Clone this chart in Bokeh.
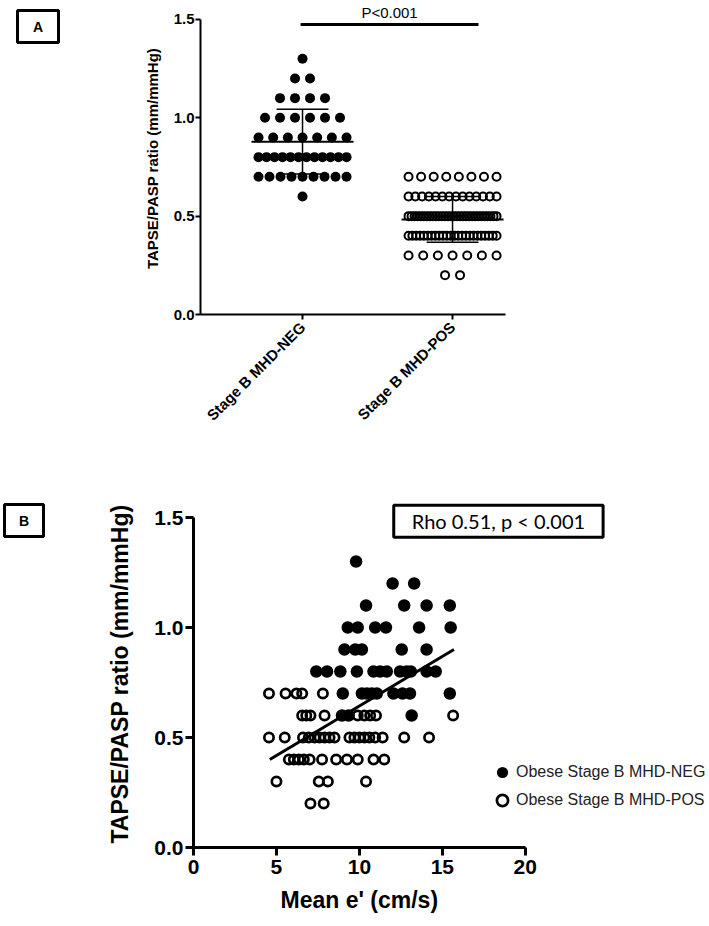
import numpy as np
from bokeh.plotting import figure
from bokeh.models import (Range1d, FixedTicker, Label, Legend, LegendItem, PrintfTickFormatter, Title,
                          Spacer)
from bokeh.layouts import column, row
from bokeh.embed import file_html
from bokeh.resources import INLINE
from bokeh.core.properties import value

# ---------------- Panel A data ----------------
groups = ["Stage B MHD-NEG", "Stage B MHD-POS"]
neg_levels = [1.3, 1.2, 1.1, 1.0, 0.9, 0.8, 0.7, 0.6]
neg_counts = [1, 2, 4, 6, 7, 12, 9, 1]
pos_levels = [0.7, 0.6, 0.5, 0.4, 0.3, 0.2]
pos_counts = [8, 14, 30, 24, 7, 2]
a_yticks = [0.0, 0.5, 1.0, 1.5]
p_text = "P<0.001"

# ---------------- Panel B data ----------------
neg_x = [9.8,
         12.0, 13.3,
         10.4, 12.7, 14.05, 15.45,
         9.3, 9.9, 10.95, 11.6, 13.6, 15.5,
         9.1, 9.75, 10.15, 12.55, 14.05,
         7.4, 8.05, 8.85, 9.85, 10.85, 11.25, 11.65, 12.45, 12.85, 13.1, 14.05, 14.6,
         9.0, 10.15, 10.45, 10.75, 11.05, 12.05, 12.6, 13.05, 15.45,
         8.95, 9.35, 13.15]
neg_y = [1.3,
         1.2, 1.2,
         1.1, 1.1, 1.1, 1.1,
         1.0, 1.0, 1.0, 1.0, 1.0, 1.0,
         0.9, 0.9, 0.9, 0.9, 0.9,
         0.8, 0.8, 0.8, 0.8, 0.8, 0.8, 0.8, 0.8, 0.8, 0.8, 0.8, 0.8,
         0.7, 0.7, 0.7, 0.7, 0.7, 0.7, 0.7, 0.7, 0.7,
         0.6, 0.6, 0.6]
pos_x = [4.55, 5.55, 6.2, 6.55, 7.8,
         6.55, 6.8, 7.05, 7.9, 9.9, 10.3, 10.65, 11.0, 15.65,
         4.55, 5.5, 6.6, 6.95, 7.3, 7.6, 7.9, 8.2, 8.5, 9.4, 9.7, 10.0, 10.3, 10.6, 10.95, 11.4, 12.7, 14.2,
         5.75, 6.05, 6.35, 6.65, 7.0, 7.75, 8.6, 9.25, 9.9, 10.85, 11.5,
         5.0, 7.55, 8.1, 10.4,
         7.05, 7.85]
pos_y = [0.7] * 5 + [0.6] * 9 + [0.5] * 18 + [0.4] * 11 + [0.3] * 4 + [0.2] * 2
fit_x = [4.6, 15.7]
fit_y = [0.40, 0.90]
b_xticks = [0, 5, 10, 15, 20]
b_yticks = [0.0, 0.5, 1.0, 1.5]
rho_text = "Rho 0.51, p < 0.001"
legend_labels = ["Obese Stage B MHD-NEG", "Obese Stage B MHD-POS"]
x_title_b = "Mean e' (cm/s)"
y_title = "TAPSE/PASP ratio (mm/mmHg)"

ARIAL = "Liberation Sans"

# ---------------- helper: dot-plot layout ----------------
PX_PER_UNIT_A = 150.0


def swarm(center, levels, counts, span_px=88.0, step_px=15.0):
    xs, ys = [], []
    for lv, n in zip(levels, counts):
        step = min(step_px, span_px / (n - 1)) if n > 1 else 0.0
        for i in range(n):
            xs.append(center + (i - (n - 1) / 2.0) * step / PX_PER_UNIT_A)
            ys.append(lv)
    return xs, ys


def letter_box(letter, fw, fh):
    b = figure(frame_width=fw, frame_height=fh, min_border=2, x_range=Range1d(0, 1), y_range=Range1d(0, 1),
               x_axis_type=None, y_axis_type=None, output_backend="svg", toolbar_location=None)
    b.grid.visible = False
    b.outline_line_color = "black"
    b.outline_line_width = 3
    b.text(x=[0.5], y=[0.5], text=[letter], text_align="center", text_baseline="middle",
           text_font=value(ARIAL), text_font_style="bold", text_font_size="14px", text_color="black")
    return b


# ---------------- Panel A ----------------
PX_PER_UNIT_AY = 196.7
FH_A = 312
pA = figure(frame_width=305, frame_height=FH_A, x_range=Range1d(0.32, 2.353),
            y_range=Range1d(0, FH_A / PX_PER_UNIT_AY),
            output_backend="svg", toolbar_location=None,
            min_border_left=140, min_border_right=10, min_border_top=2, min_border_bottom=166)
pA.grid.visible = False
pA.outline_line_color = None

nx, ny = swarm(1, neg_levels, neg_counts)
px_, py_ = swarm(2, pos_levels, pos_counts)
pA.scatter(nx, ny, size=10, marker="circle", fill_color="black", line_color=None)
pA.scatter(px_, py_, size=8, marker="circle", fill_alpha=0, line_color="black", line_width=2)

for c, vals in ((1, ny), (2, py_)):
    m = float(np.mean(vals))
    s = float(np.std(vals, ddof=1))
    pA.segment(x0=[c - 0.34], x1=[c + 0.34], y0=[m], y1=[m], line_color="black", line_width=2)
    pA.segment(x0=[c], x1=[c], y0=[m - s], y1=[m + s], line_color="black", line_width=1.5)
    pA.segment(x0=[c - 0.173, c - 0.173], x1=[c + 0.173, c + 0.173], y0=[m - s, m + s], y1=[m - s, m + s],
               line_color="black", line_width=1.5)

pA.line([0.987, 2.173], [1.474, 1.474], line_color="black", line_width=3)
pA.add_layout(Label(x=1.58, y=1.535, text=p_text, text_align="center", text_baseline="middle",
                    text_font=ARIAL, text_font_size="15px", text_color="black"))

pA.yaxis.ticker = FixedTicker(ticks=a_yticks)
pA.yaxis.formatter = PrintfTickFormatter(format="%.1f")
pA.yaxis.bounds = (0, 1.5)
pA.xaxis.ticker = FixedTicker(ticks=[1, 2])
pA.xaxis.major_label_overrides = {1: groups[0], 2: groups[1]}
pA.xaxis.major_label_orientation = np.pi / 4
for ax in (pA.xaxis, pA.yaxis):
    ax.axis_line_width = 2
    ax.axis_line_color = "black"
    ax.major_tick_line_width = 2
    ax.major_tick_line_color = "black"
    ax.major_tick_in = 0
    ax.major_tick_out = 5
    ax.minor_tick_line_color = None
    ax.major_label_text_font = ARIAL
    ax.major_label_text_font_style = "bold"
    ax.major_label_text_font_size = "15px"
    ax.major_label_text_color = "black"
    ax.major_label_standoff = 1
pA.xaxis.major_label_standoff = 5
pA.yaxis.axis_label = y_title
pA.yaxis.axis_label_text_font = ARIAL
pA.yaxis.axis_label_text_font_style = "bold"
pA.yaxis.axis_label_text_font_size = "15px"
pA.yaxis.axis_label_standoff = 10
pA.yaxis.axis_label_text_color = "black"

boxA = letter_box("A", 41, 32)

# ---------------- Panel B ----------------
PX_PER_UNIT_BX = 16.59
PX_PER_UNIT_BY = 220.0
FW_B, FH_B = 516, 347
pB = figure(frame_width=FW_B, frame_height=FH_B,
            x_range=Range1d(0, FW_B / PX_PER_UNIT_BX), y_range=Range1d(0, FH_B / PX_PER_UNIT_BY),
            output_backend="svg", toolbar_location=None,
            min_border_left=148, min_border_right=0, min_border_top=20, min_border_bottom=79)
pB.grid.visible = False
pB.outline_line_color = None

r_pos = pB.scatter(pos_x, pos_y, size=9.3, marker="circle", fill_alpha=0, line_color="black", line_width=2.7)
r_neg = pB.scatter(neg_x, neg_y, size=12.5, marker="circle", fill_color="black", line_color=None)
pB.line(fit_x, fit_y, line_color="black", line_width=3)

pB.xaxis.ticker = FixedTicker(ticks=b_xticks)
pB.yaxis.ticker = FixedTicker(ticks=b_yticks)
pB.yaxis.formatter = PrintfTickFormatter(format="%.1f")
pB.xaxis.bounds = (0, 20)
pB.yaxis.bounds = (0, 1.5)
for ax in (pB.xaxis, pB.yaxis):
    ax.axis_line_width = 3
    ax.axis_line_color = "black"
    ax.major_tick_line_width = 3
    ax.major_tick_line_color = "black"
    ax.major_tick_in = 0
    ax.major_tick_out = 8
    ax.minor_tick_line_color = None
    ax.major_label_text_font = ARIAL
    ax.major_label_text_font_style = "bold"
    ax.major_label_text_font_size = "21px"
    ax.major_label_text_color = "black"
    ax.major_label_standoff = 2
pB.xaxis.major_label_standoff = 4
pB.yaxis.axis_label = y_title
pB.yaxis.axis_label_text_font = ARIAL
pB.yaxis.axis_label_text_font_style = "bold"
pB.yaxis.axis_label_text_font_size = "23px"
pB.yaxis.axis_label_text_color = "black"
pB.yaxis.axis_label_standoff = 18

pB.add_layout(Title(text=x_title_b, align="left", offset=87, standoff=17,
                    text_font=ARIAL, text_font_style="bold", text_font_size="23px",
                    text_color="black"), "below")

pB.add_layout(Label(x=18.38, y=1.483, text=rho_text, text_align="center", text_baseline="middle",
                    text_font="Lato", text_font_size="20px", text_color="black",
                    border_line_color="black", border_line_width=3,
                    padding=dict(left=18, right=18, top=4, bottom=4)))

legend = Legend(items=[LegendItem(label=legend_labels[0], renderers=[r_neg]),
                       LegendItem(label=legend_labels[1], renderers=[r_pos])],
                location=(295, 33), glyph_width=28, glyph_height=28, label_height=24,
                label_standoff=0, padding=0, margin=0, spacing=-4,
                border_line_color=None, background_fill_alpha=0,
                label_text_font=ARIAL, label_text_font_size="16px", label_text_color="#222222")
pB.add_layout(legend)

boxB = letter_box("B", 39, 32)

rowA = row(Spacer(width=15, height=10), column(Spacer(width=45, height=8), boxA, spacing=0), pA, spacing=0)
rowB = row(Spacer(width=2, height=10), column(Spacer(width=43, height=22), boxB, spacing=0), pB, spacing=0)
layout = column(rowA, rowB, spacing=0)
open("out.html", "w").write(file_html(layout, INLINE))
